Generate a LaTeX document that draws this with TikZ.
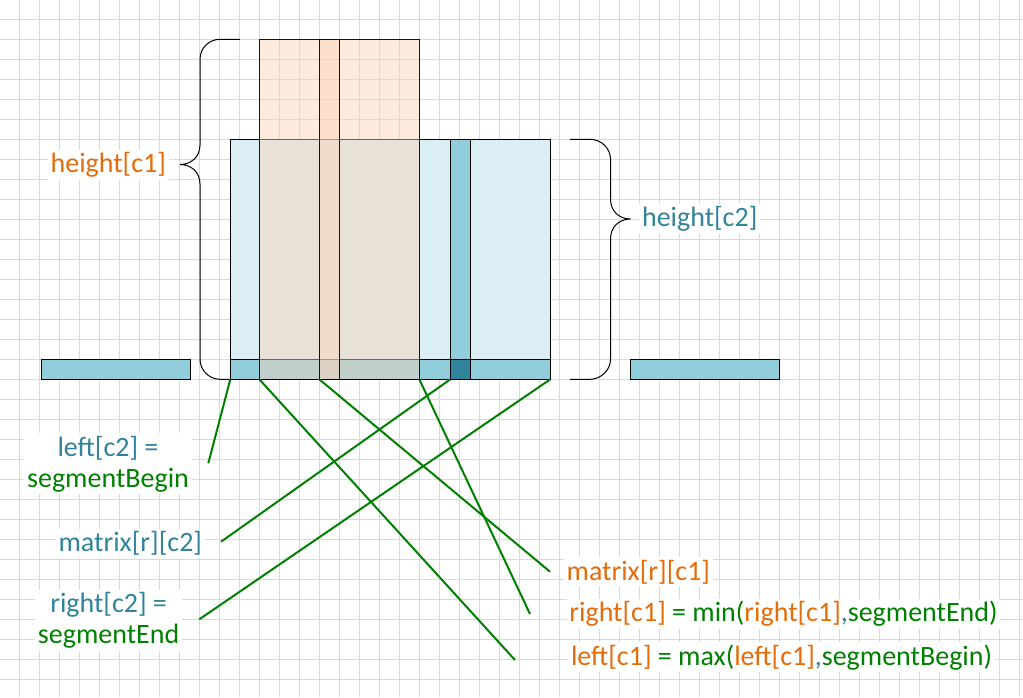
\documentclass[tikz,border=0pt]{standalone}
\usepackage{fontspec}
\setmainfont{Carlito}
\definecolor{gridc}{HTML}{D9D9D9}
\definecolor{lblue}{HTML}{DAEEF3}
\definecolor{mblue}{HTML}{92CDDC}
\definecolor{dblue}{HTML}{31849B}
\definecolor{orfill}{RGB}{251,211,184}
\definecolor{ortext}{HTML}{E46C0A}
\definecolor{grn}{HTML}{008000}
\begin{document}
\begin{tikzpicture}[x=0.75pt,y=-0.75pt,
  gridline/.style={draw=gridc,line width=0.75pt},
  box/.style={draw=black,line width=0.75pt},
  orbox/.style={draw=black,line width=0.75pt,fill=orfill,fill opacity=0.45,draw opacity=0.9},
  brace/.style={draw=black,line width=0.75pt},
  conn/.style={draw=grn,line width=1.5pt},
  lbl/.style={fill=white,inner sep=2pt,font=\fontsize{21}{23}\selectfont,align=center,anchor=base},
]
\useasboundingbox (0,0) rectangle (1023,697);
\fill[white] (0,0) rectangle (1023,697);
% grid
\foreach \i in {1,...,51} \draw[gridline] ({20*\i-0.5},0) -- ({20*\i-0.5},697);
\foreach \j in {1,...,34} \draw[gridline] (0,{20*\j-0.7}) -- (1023,{20*\j-0.7});
% braces
\draw[brace] (240,39.3) -- (220,39.3) .. controls (209,39.3) and (200,48) .. (200,59.3) -- (200,145) .. controls (200,157) and (191,164.5) .. (180,164.5) .. controls (191,164.5) and (200,172) .. (200,184) -- (200,359.3) .. controls (200,370) and (209,379.3) .. (220,379.3) -- (240,379.3);
\draw[brace] (570,139.3) -- (590,139.3) .. controls (601,139.3) and (610.5,148) .. (610.5,159.3) -- (610.5,199) .. controls (610.5,211) and (619,219) .. (630.5,219) .. controls (619,219) and (610.5,227) .. (610.5,239) -- (610.5,359.3) .. controls (610.5,370) and (601,379.3) .. (590,379.3) -- (570,379.3);
% side bars
\draw[box,fill=mblue] (41,359.3) rectangle (190.3,379.3);
\draw[box,fill=mblue] (630.7,359.3) rectangle (779.3,379.3);
% blue rectangle c2
\draw[box,fill=lblue] (230.3,139.3) rectangle (550.3,379.3);
\draw[box,fill=mblue] (450.3,139.3) rectangle (470.3,379.3);
\draw[box,fill=mblue] (230.3,359.3) rectangle (550.3,379.3);
\draw[box,fill=dblue] (450.3,359.3) rectangle (470.3,379.3);
\draw[box] (450.3,139.3) -- (450.3,379.3) (470.3,139.3) -- (470.3,379.3);
% orange rectangle c1
\path[orbox] (259.3,39.3) rectangle (419.3,379.3);
\path[orbox] (319.3,39.3) rectangle (339.3,379.3);
% connector anchors
\coordinate (bL2) at (230.3,379.3);
\coordinate (bL1) at (259.3,379.3);
\coordinate (bM1) at (319.3,379.3);
\coordinate (bR1) at (419.3,379.3);
\coordinate (bM2) at (450.3,379.3);
\coordinate (bR2) at (550.3,379.3);
\coordinate (eL2) at (208.3,463.3);
\coordinate (eM2) at (221,541.7);
\coordinate (eR2) at (199.3,619.3);
\coordinate (eM1) at (550,571.7);
\coordinate (eR1) at (530,614);
\coordinate (eL1) at (515,660);
\draw[conn] (bL2) -- (eL2);
\draw[conn] (bM2) -- (eM2);
\draw[conn] (bR2) -- (eR2);
\draw[conn] (bM1) -- (eM1);
\draw[conn] (bR1) -- (eR1);
\draw[conn] (bL1) -- (eL1);
% labels
\node[lbl,text=ortext] (hc1) at (108.3,172.7) {height[c1]};
\node[lbl,text=dblue] (hc2) at (699.7,226.7) {height[c2]};
\node[lbl] (tl2) at (108,487) {\textcolor{dblue}{left[c2] =}\\\textcolor{grn}{segmentBegin}};
\node[lbl,text=dblue] (tm2) at (130.3,551.7) {matrix[r][c2]};
\node[lbl] (tr2) at (108.6,643.3) {\textcolor{dblue}{right[c2] =}\\\textcolor{grn}{segmentEnd}};
\node[lbl,text=ortext] (tm1) at (638.3,580) {matrix[r][c1]};
\node[lbl] (tr1) at (783.5,621.7) {\textcolor{ortext}{right[c1]} \textcolor{grn}{= min(}\textcolor{ortext}{right[c1]}\textcolor{dblue}{,}\textcolor{grn}{segmentEnd)}};
\node[lbl] (tl1) at (781.5,665) {\textcolor{ortext}{left[c1]} \textcolor{grn}{= max(}\textcolor{ortext}{left[c1]}\textcolor{dblue}{,}\textcolor{grn}{segmentBegin)}};
\end{tikzpicture}
\end{document}
